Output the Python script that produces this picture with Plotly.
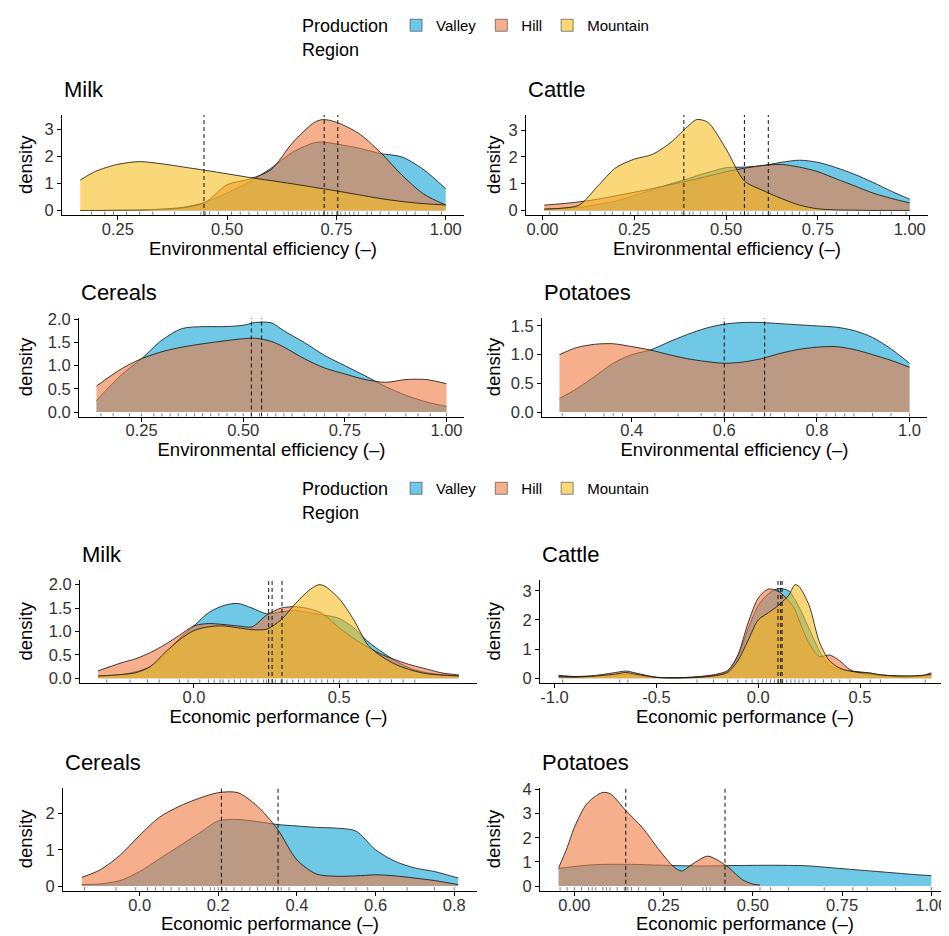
import plotly.graph_objects as go

W, H = 949, 936
FONT = "Liberation Sans, Arial, sans-serif"

REGIONS = ["Valley", "Hill", "Mountain"]
FILL = {"Valley": "rgba(13,163,213,0.6)", "Hill": "rgba(238,122,63,0.6)", "Mountain": "rgba(247,188,30,0.6)"}

ENV = "Environmental efficiency (–)"
ECO = "Economic performance (–)"
TITLES = ["Milk", "Cattle", "Cereals", "Potatoes", "Milk", "Cattle", "Cereals", "Potatoes"]

# ---------------- Environmental efficiency ----------------
milk_env_x = [0.164, 0.2, 0.25, 0.3, 0.35, 0.4, 0.45, 0.5, 0.55, 0.6, 0.65, 0.7, 0.72, 0.75, 0.8, 0.85, 0.9, 0.95, 1.0]
milk_env_valley = [0.0, 0.0, 0.01, 0.02, 0.05, 0.12, 0.3, 0.65, 1.05, 1.55, 2.15, 2.5, 2.52, 2.45, 2.3, 2.1, 1.97, 1.5, 0.8]
milk_env_hill = [0.0, 0.0, 0.01, 0.02, 0.04, 0.1, 0.3, 0.95, 1.15, 1.5, 2.5, 3.25, 3.35, 3.25, 2.85, 2.15, 1.3, 0.6, 0.2]
milk_env_mountain = [1.12, 1.45, 1.7, 1.8, 1.72, 1.6, 1.48, 1.35, 1.22, 1.1, 0.98, 0.85, 0.8, 0.72, 0.58, 0.44, 0.33, 0.25, 0.2]
milk_env_means = [0.753, 0.722, 0.447]
milk_env_rug = [0.19, 0.22, 0.24, 0.27, 0.30, 0.33, 0.38, 0.44, 0.45, 0.46, 0.48, 0.51, 0.53, 0.55, 0.57, 0.59,
                0.61, 0.63, 0.64, 0.65, 0.66, 0.67, 0.68, 0.69, 0.70, 0.71, 0.72, 0.73, 0.74, 0.75, 0.76, 0.77,
                0.78, 0.79, 0.80, 0.82, 0.83, 0.85, 0.87, 0.89, 0.91, 0.93, 0.96, 0.99]

cattle_env_x = [0.005, 0.05, 0.1, 0.15, 0.2, 0.25, 0.3, 0.35, 0.4, 0.42, 0.45, 0.5, 0.55, 0.6, 0.65, 0.7, 0.75, 0.8, 0.85, 0.9, 0.95, 1.0]
cattle_env_valley = [0.05, 0.08, 0.12, 0.22, 0.35, 0.55, 0.78, 1.0, 1.2, 1.3, 1.42, 1.6, 1.62, 1.68, 1.8, 1.88, 1.8, 1.6, 1.35, 1.05, 0.72, 0.42]
cattle_env_hill = [0.2, 0.25, 0.32, 0.42, 0.55, 0.68, 0.82, 0.97, 1.12, 1.18, 1.28, 1.45, 1.58, 1.68, 1.72, 1.62, 1.45, 1.18, 0.92, 0.65, 0.45, 0.28]
cattle_env_mountain = [0.05, 0.08, 0.2, 0.9, 1.6, 1.92, 2.1, 2.55, 3.2, 3.4, 3.3, 2.3, 1.1, 0.75, 0.45, 0.2, 0.06, 0.02, 0.01, 0.0, 0.0, 0.0]
cattle_env_means = [0.615, 0.55, 0.385]
cattle_env_rug = [0.02, 0.06, 0.09, 0.13, 0.17, 0.19, 0.22, 0.24, 0.26, 0.28, 0.3, 0.32, 0.34, 0.36, 0.38, 0.4, 0.41,
                  0.43, 0.45, 0.47, 0.49, 0.5, 0.52, 0.54, 0.56, 0.58, 0.6, 0.62, 0.64, 0.66, 0.68, 0.7, 0.72,
                  0.74, 0.77, 0.8, 0.83, 0.86, 0.89, 0.92, 0.95, 0.99]

cereals_env_x = [0.139, 0.2, 0.25, 0.3, 0.35, 0.4, 0.45, 0.5, 0.53, 0.57, 0.6, 0.65, 0.7, 0.75, 0.8, 0.85, 0.9, 0.95, 1.0]
cereals_env_valley = [0.25, 0.8, 1.15, 1.55, 1.8, 1.84, 1.84, 1.87, 1.93, 1.92, 1.75, 1.5, 1.22, 1.0, 0.78, 0.55, 0.36, 0.22, 0.12]
cereals_env_hill = [0.56, 0.93, 1.15, 1.3, 1.4, 1.47, 1.53, 1.58, 1.59, 1.52, 1.4, 1.15, 0.95, 0.82, 0.7, 0.64, 0.7, 0.7, 0.61]
cereals_env_means = [0.545, 0.52]
cereals_env_rug = [0.15, 0.18, 0.22, 0.25, 0.28, 0.3, 0.32, 0.34, 0.36, 0.38, 0.4, 0.42, 0.44, 0.46, 0.48, 0.5, 0.52,
                   0.54, 0.56, 0.58, 0.6, 0.62, 0.65, 0.68, 0.7, 0.73, 0.76, 0.8, 0.85, 0.9, 0.93, 0.96, 1.0]

potatoes_env_x = [0.244, 0.28, 0.32, 0.36, 0.4, 0.44, 0.48, 0.52, 0.56, 0.6, 0.64, 0.68, 0.72, 0.76, 0.8, 0.84, 0.88, 0.92, 0.96, 1.0]
potatoes_env_valley = [0.24, 0.4, 0.62, 0.85, 1.0, 1.08, 1.22, 1.35, 1.46, 1.53, 1.56, 1.56, 1.54, 1.52, 1.5, 1.48, 1.42, 1.3, 1.1, 0.85]
potatoes_env_hill = [1.0, 1.12, 1.18, 1.19, 1.14, 1.08, 1.0, 0.93, 0.88, 0.85, 0.87, 0.93, 1.02, 1.09, 1.13, 1.14, 1.09, 1.0, 0.9, 0.78]
potatoes_env_means = [0.687, 0.6]
potatoes_env_rug = [0.25, 0.3, 0.34, 0.36, 0.38, 0.45, 0.5, 0.55, 0.58, 0.6, 0.62, 0.66, 0.7, 0.73, 0.76, 0.8,
                    0.82, 0.84, 0.86, 0.88, 0.92, 0.96, 1.0]

# ---------------- Economic performance ----------------
milk_eco_x = [-0.33, -0.25, -0.2, -0.15, -0.1, -0.05, 0.0, 0.05, 0.1, 0.15, 0.2, 0.25, 0.3, 0.35, 0.4, 0.43, 0.45,
              0.5, 0.55, 0.6, 0.65, 0.7, 0.75, 0.8, 0.85, 0.912]
milk_eco_valley = [0.04, 0.08, 0.14, 0.25, 0.5, 0.85, 1.12, 1.4, 1.55, 1.6, 1.5, 1.38, 1.42, 1.45, 1.4, 1.37, 1.35,
                   1.28, 1.08, 0.78, 0.55, 0.35, 0.2, 0.12, 0.08, 0.05]
milk_eco_hill = [0.16, 0.33, 0.42, 0.55, 0.72, 0.92, 1.12, 1.17, 1.15, 1.12, 1.1, 1.35, 1.5, 1.53, 1.48, 1.42, 1.35,
                 1.08, 0.85, 0.66, 0.5, 0.38, 0.28, 0.2, 0.12, 0.07]
milk_eco_mountain = [0.05, 0.08, 0.12, 0.25, 0.55, 0.82, 1.02, 1.1, 1.12, 1.08, 1.04, 1.05, 1.25, 1.6, 1.9, 2.0, 1.97,
                     1.7, 1.25, 0.7, 0.45, 0.28, 0.17, 0.1, 0.07, 0.05]
milk_eco_means = [0.257, 0.269, 0.303]
milk_eco_rug = [-0.3, -0.22, -0.16, -0.12, -0.05, -0.02, 0.02, 0.05, 0.07, 0.09, 0.1, 0.12, 0.14, 0.16, 0.18, 0.2,
                0.22, 0.24, 0.25, 0.27, 0.28, 0.3, 0.32, 0.34, 0.36, 0.38, 0.4, 0.42, 0.44, 0.46, 0.48, 0.5, 0.53,
                0.56, 0.6, 0.64, 0.68, 0.72, 0.76]

cattle_eco_x = [-0.98, -0.9, -0.8, -0.7, -0.65, -0.6, -0.5, -0.4, -0.3, -0.2, -0.15, -0.1, -0.05, 0.0, 0.05, 0.1,
                0.15, 0.18, 0.2, 0.25, 0.3, 0.35, 0.4, 0.45, 0.5, 0.55, 0.6, 0.7, 0.8, 0.85]
cattle_eco_valley = [0.1, 0.06, 0.06, 0.12, 0.15, 0.1, 0.03, 0.02, 0.05, 0.12, 0.25, 0.75, 1.7, 2.5, 2.9, 3.08,
                     3.0, 2.7, 2.45, 1.7, 0.95, 0.45, 0.3, 0.25, 0.22, 0.18, 0.12, 0.08, 0.08, 0.12]
cattle_eco_hill = [0.08, 0.06, 0.1, 0.2, 0.25, 0.18, 0.04, 0.02, 0.05, 0.15, 0.27, 0.8, 1.9, 2.75, 3.06, 2.98,
                   2.65, 2.35, 2.0, 1.2, 0.75, 0.8, 0.6, 0.3, 0.18, 0.14, 0.1, 0.05, 0.08, 0.19]
cattle_eco_mountain = [0.05, 0.04, 0.08, 0.15, 0.2, 0.14, 0.03, 0.01, 0.03, 0.1, 0.2, 0.6, 1.3, 2.0, 2.25, 2.5,
                       2.85, 3.21, 3.15, 2.5, 1.25, 0.6, 0.35, 0.25, 0.2, 0.18, 0.12, 0.08, 0.1, 0.14]
cattle_eco_means = [0.11, 0.097, 0.117]
cattle_eco_rug = [-0.96, -0.68, -0.64, -0.3, -0.22, -0.15, -0.1, -0.06, -0.03, 0.0, 0.02, 0.04, 0.06, 0.08, 0.1,
                  0.12, 0.14, 0.16, 0.18, 0.2, 0.22, 0.25, 0.28, 0.32, 0.36, 0.4, 0.45, 0.55, 0.6, 0.82]

cereals_eco_x = [-0.147, -0.1, -0.05, 0.0, 0.05, 0.1, 0.15, 0.2, 0.25, 0.3, 0.35, 0.4, 0.45, 0.5, 0.55, 0.6, 0.65,
                 0.7, 0.75, 0.81]
cereals_eco_valley = [0.04, 0.06, 0.15, 0.4, 0.75, 1.1, 1.45, 1.8, 1.84, 1.78, 1.7, 1.66, 1.62, 1.6, 1.52, 1.0,
                      0.68, 0.5, 0.4, 0.22]
cereals_eco_hill = [0.24, 0.45, 0.85, 1.4, 1.9, 2.2, 2.42, 2.58, 2.58, 2.2, 1.58, 0.72, 0.33, 0.27, 0.28, 0.31,
                    0.28, 0.22, 0.15, 0.04]
cereals_eco_means = [0.352, 0.208]
cereals_eco_rug = [-0.14, -0.06, -0.01, 0.02, 0.04, 0.06, 0.08, 0.1, 0.12, 0.14, 0.16, 0.18, 0.19, 0.2, 0.21, 0.22,
                   0.24, 0.26, 0.28, 0.3, 0.32, 0.34, 0.36, 0.38, 0.42, 0.45, 0.48, 0.52, 0.55, 0.58, 0.62, 0.68,
                   0.75, 0.8]

potatoes_eco_valley_x = [-0.044, 0.05, 0.15, 0.25, 0.35, 0.45, 0.55, 0.65, 0.75, 0.85, 0.95, 1.0]
potatoes_eco_valley = [0.73, 0.88, 0.9, 0.86, 0.83, 0.85, 0.86, 0.84, 0.72, 0.6, 0.48, 0.43]
potatoes_eco_hill_x = [-0.044, -0.02, 0.0, 0.035, 0.077, 0.1, 0.144, 0.19, 0.24, 0.276, 0.3, 0.33, 0.373, 0.406,
                       0.433, 0.47, 0.5, 0.52]
potatoes_eco_hill = [0.76, 1.6, 2.43, 3.41, 3.87, 3.83, 3.13, 2.43, 1.45, 0.83, 0.62, 0.9, 1.24, 1.03, 0.76, 0.27,
                     0.08, 0.04]
potatoes_eco_means = [0.422, 0.144]
potatoes_eco_rug = [-0.04, -0.02, 0.0, 0.02, 0.04, 0.05, 0.06, 0.08, 0.09, 0.1, 0.12, 0.14, 0.15, 0.16, 0.18, 0.2,
                    0.24, 0.3, 0.36, 0.37, 0.38, 0.42, 0.52, 0.55, 0.6, 0.7, 0.78, 0.82, 0.9, 1.0]

# tick values / labels
x_ticks = [[0.25, 0.5, 0.75, 1.0], [0.0, 0.25, 0.5, 0.75, 1.0], [0.25, 0.5, 0.75, 1.0], [0.4, 0.6, 0.8, 1.0],
           [0.0, 0.5], [-1.0, -0.5, 0.0, 0.5], [0.0, 0.2, 0.4, 0.6, 0.8], [0.0, 0.25, 0.5, 0.75, 1.0]]
x_fmt = ["{:.2f}", "{:.2f}", "{:.2f}", "{:.1f}", "{:.1f}", "{:.1f}", "{:.1f}", "{:.2f}"]
y_ticks = [[0, 1, 2, 3], [0, 1, 2, 3], [0.0, 0.5, 1.0, 1.5, 2.0], [0.0, 0.5, 1.0, 1.5],
           [0.0, 0.5, 1.0, 1.5, 2.0], [0, 1, 2, 3], [0, 1, 2], [0, 1, 2, 3, 4]]
y_fmt = ["{:.0f}", "{:.0f}", "{:.1f}", "{:.1f}", "{:.1f}", "{:.0f}", "{:.0f}", "{:.0f}"]

# panel boxes in pixels: left, right, top, bottom
BOXES = [(54, 456, 107, 207), (518, 920, 107, 207), (71, 456, 310, 408.5), (534, 919, 310, 408.5),
         (72, 469, 572, 675), (532, 942, 572, 675), (55, 469, 780, 882.7), (532, 942, 780, 882.7)]
# x position (px) of the centre of the "density" label, per panel
YLAB_X = [17, 485, 17, 485, 17, 485, 17, 485]

panels = [
    dict(curves=[("Valley", milk_env_x, milk_env_valley), ("Hill", milk_env_x, milk_env_hill),
                 ("Mountain", milk_env_x, milk_env_mountain)], means=milk_env_means, rug=milk_env_rug, xlab=ENV),
    dict(curves=[("Valley", cattle_env_x, cattle_env_valley), ("Hill", cattle_env_x, cattle_env_hill),
                 ("Mountain", cattle_env_x, cattle_env_mountain)], means=cattle_env_means, rug=cattle_env_rug, xlab=ENV),
    dict(curves=[("Valley", cereals_env_x, cereals_env_valley), ("Hill", cereals_env_x, cereals_env_hill)],
         means=cereals_env_means, rug=cereals_env_rug, xlab=ENV),
    dict(curves=[("Valley", potatoes_env_x, potatoes_env_valley), ("Hill", potatoes_env_x, potatoes_env_hill)],
         means=potatoes_env_means, rug=potatoes_env_rug, xlab=ENV),
    dict(curves=[("Valley", milk_eco_x, milk_eco_valley), ("Hill", milk_eco_x, milk_eco_hill),
                 ("Mountain", milk_eco_x, milk_eco_mountain)], means=milk_eco_means, rug=milk_eco_rug, xlab=ECO),
    dict(curves=[("Valley", cattle_eco_x, cattle_eco_valley), ("Hill", cattle_eco_x, cattle_eco_hill),
                 ("Mountain", cattle_eco_x, cattle_eco_mountain)], means=cattle_eco_means, rug=cattle_eco_rug, xlab=ECO),
    dict(curves=[("Valley", cereals_eco_x, cereals_eco_valley), ("Hill", cereals_eco_x, cereals_eco_hill)],
         means=cereals_eco_means, rug=cereals_eco_rug, xlab=ECO),
    dict(curves=[("Valley", potatoes_eco_valley_x, potatoes_eco_valley), ("Hill", potatoes_eco_hill_x, potatoes_eco_hill)],
         means=potatoes_eco_means, rug=potatoes_eco_rug, xlab=ECO),
]

fig = go.Figure()
shapes = []
annotations = []
layout = {}

for i, p in enumerate(panels):
    n = i + 1
    sfx = "" if n == 1 else str(n)
    xa, ya = "x" + sfx, "y" + sfx
    l, r, t, b = BOXES[i]
    xs_all = [v for c in p["curves"] for v in c[1]]
    ys_all = [v for c in p["curves"] for v in c[2]]
    xmin, xmax = min(xs_all), max(xs_all)
    ymax = max(ys_all)
    dx = 0.05 * (xmax - xmin)
    for name, xs, ys in p["curves"]:
        fig.add_trace(go.Scatter(
            x=xs, y=ys, xaxis=xa, yaxis=ya, mode="lines", fill="tozeroy",
            fillcolor=FILL[name], line=dict(color="rgba(20,20,20,0.9)", width=0.9, shape="spline", smoothing=0.8),
            showlegend=False, hoverinfo="skip"))
    for rv in p["rug"]:
        shapes.append(dict(type="line", xref=xa, yref=ya + " domain", x0=rv, x1=rv, y0=0, y1=0.035,
                           line=dict(color="rgba(40,40,40,0.75)", width=0.8)))
    for m in p["means"]:
        shapes.append(dict(type="line", xref=xa, yref=ya + " domain", x0=m, x1=m, y0=0, y1=1,
                           line=dict(color="rgba(15,15,15,0.9)", width=1.1, dash="4px,3px")))
    axis_common = dict(showline=True, linecolor="black", linewidth=1, ticks="outside", ticklen=4,
                       tickcolor="black", tickwidth=1, showgrid=False, zeroline=False, automargin=False,
                       tickfont=dict(family=FONT, size=16.5, color="#333333"))
    layout["xaxis" + sfx] = dict(
        axis_common, domain=[l / W, r / W], anchor=ya, range=[xmin - dx, xmax + dx],
        tickmode="array", tickvals=x_ticks[i], ticktext=[x_fmt[i].format(v) for v in x_ticks[i]],
        ticklabelstandoff=-5,
        title=dict(text=p["xlab"], font=dict(family=FONT, size=18.5, color="black"), standoff=1))
    layout["yaxis" + sfx] = dict(
        axis_common, domain=[1 - b / H, 1 - t / H], anchor=xa, range=[-0.05 * ymax, 1.05 * ymax],
        tickmode="array", tickvals=y_ticks[i], ticktext=[y_fmt[i].format(v) for v in y_ticks[i]])
    annotations.append(dict(text="density", xref="paper", yref=ya + " domain", x=YLAB_X[i] / W, y=0.5,
                            xanchor="center", yanchor="middle", textangle=-90, showarrow=False,
                            font=dict(family=FONT, size=18.5, color="black")))
    annotations.append(dict(text=TITLES[i], xref=xa + " domain", yref=ya + " domain", x=0, y=1,
                            xanchor="left", yanchor="bottom", yshift=11, showarrow=False,
                            font=dict(family=FONT, size=22, color="black")))

# legend key traces
for lg in ["legend", "legend2"]:
    for name in REGIONS:
        fig.add_trace(go.Bar(x=[None], y=[None], name=name, marker=dict(color=FILL[name],
                      line=dict(color="rgba(60,60,60,0.6)", width=1)), legend=lg, showlegend=True))

leg_common = dict(orientation="h", xanchor="left", yanchor="top", bgcolor="rgba(0,0,0,0)",
                  font=dict(family=FONT, size=15, color="black"), itemwidth=30, tracegroupgap=0,
                  title=dict(text="Production<br>Region", side="left", font=dict(family=FONT, size=18, color="black")))
layout["legend"] = dict(leg_common, x=292 / W, y=1 - 1 / H)
layout["legend2"] = dict(leg_common, x=292 / W, y=1 - 464 / H)

fig.update_layout(width=W, height=H, margin=dict(l=0, r=0, t=0, b=0, autoexpand=False), plot_bgcolor="white",
                  paper_bgcolor="white", shapes=shapes, annotations=annotations, barmode="overlay",
                  font=dict(family=FONT), **layout)
fig.write_html("out.html")
